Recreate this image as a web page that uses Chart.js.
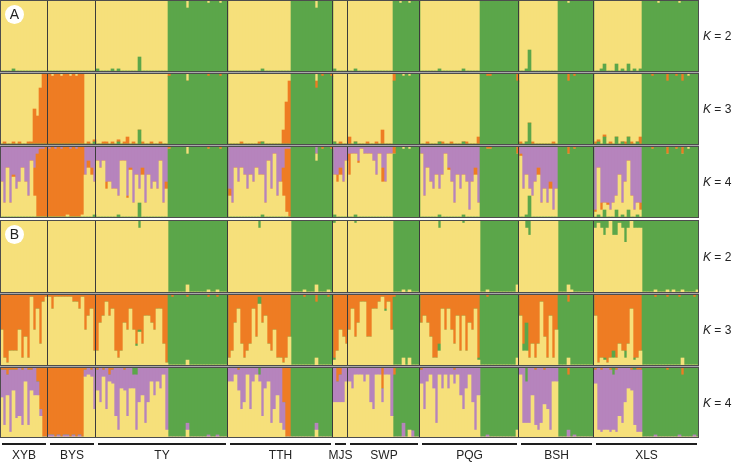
<!DOCTYPE html>
<html>
<head>
<meta charset="utf-8">
<script src="https://cdn.jsdelivr.net/npm/chart.js@4.4.0/dist/chart.umd.min.js"></script>
<style>
  body { margin: 0; background: #fff; font-family: "Liberation Sans", Arial, sans-serif; color: #222; }
  #wrap { position: relative; width: 732px; height: 462px; overflow: hidden; }
  .row canvas { position: absolute; left: 0; }
  .frame { position: absolute; left: 0; width: 699px; box-sizing: border-box; border: 1px solid #4d4d4d; pointer-events: none; }
  .gap { position: absolute; left: 0; width: 699px; height: 1px; background: #a9a9a9; }
  .klabel { position: absolute; left: 703px; font-size: 12px; line-height: 14px; white-space: nowrap; }
  .badge { position: absolute; left: 5px; width: 19px; height: 19px; border-radius: 50%; background: #fff;
           font-size: 14px; line-height: 19px; text-align: center; }
  .popline { position: absolute; top: 443px; height: 2px; background: #1e1e1e; }
  .poplabel { position: absolute; top: 448px; font-size: 12px; line-height: 14px; text-align: center; }
  #dbg { position: absolute; left: 0; top: 0; color: red; font-size: 10px; }
</style>
</head>
<body>
<div id="wrap"><div id="dbg"></div></div>
<script>
const popNames = ['XYB', 'BYS', 'TY', 'TTH', 'MJS', 'SWP', 'PQG', 'BSH', 'XLS'];
const popSizes = [16, 16, 44, 35, 5, 24, 33, 25, 35];
const kValues = [2, 3, 4, 2, 3, 4];
const panelTags = ['A', '', '', 'B', '', ''];

// one character per individual: 0 none, . trace, 1-9 tenths, b almost all, a all
const LEVELS = { '0': 0, '.': 0.03, '1': 0.1, '2': 0.2, '3': 0.3, '4': 0.4, '5': 0.5,
                 '6': 0.6, '7': 0.7, '8': 0.8, '9': 0.9, 'b': 0.97, 'a': 1 };

// (A) K = 2
const aK2Green = [
  '0000.00000000000',
  '0000000000000000',
  '.0000.0.0000002000000000' + 'aaaaaa9aaaaaabaaabaa',
  '00000000000.000000000' + 'aaaaaaaa9aaaaa',
  '.0000',
  '00.000000000000' + 'aabaabaaa',
  '000000.0000000.00000' + 'aaaaaaaaaaaaa',
  '00.3000000000' + 'aaabaaaaaaaa',
  '00.100010.010.0.' + 'aaaaabaaaaaabaaaaaa'
];

// (A) K = 3
const aK3Green = [
  '0000000000000000',
  '000000000000000.',
  '0000000.0000002000000000' + 'baaaaa9aaaaaabaaabaa',
  '00000000000.000000000' + 'aaaaaaaa8abaab',
  '.0000',
  '00.000000000000' + '9aababaaa',
  '000000.0000000.00000' + 'aabbaaaaaaaa9',
  '00.3000000000' + 'aaa9abaaaaaa',
  '0.0100010.0100.0' + 'aaabaaaa9aaba9abaaa'
];
const aK3Orange = [
  '0.00.0.00..548aa',
  'abaabaababaa0.0.',
  '00..0.0.0.10.00.00.00.00' + '.000000000000.000.00',
  '0000.00000.0000000269' + '0000000010.00.',
  '00.00',
  '100000.00.02000' + '100000000',
  '00.0000.00.0000.0001' + '00..000000001',
  '.000.000000.0' + '00010.000000',
  '..0.0.0000.0.001' + '000.0000100.0100000'
];

// (A) K = 4
const aK4Green = [
  '0000000000000000',
  '000000000000000.',
  '0000000.0000002000000000' + 'baaaaa9aaaaaabaaabaa',
  '00000000000.000000000' + 'aaaaaaaa8abaab',
  '.0000',
  '00.000000000000' + '9aababaaa',
  '000000.0000000.00000' + 'aabbaaaaaaaa9',
  '00.3000000000' + 'aaa9abaaaaaa',
  '0.0100010.0100.0' + 'aaabaaaa9aaba9abaaa'
];
const aK4Orange = [
  '0000.00000049bba',
  'babababbabab0110',
  '0001000000..000100000001' + '.000000000000.000.00',
  '10000000000000000049b' + '0000000000.00.',
  '01100',
  '300.00000002000' + '100000000',
  '000000000.0000000010' + '00..000000001',
  '.000001000100' + '00010.000000',
  '.010.00000000001' + '000.0000100.0100000'
];
const aK4Purple = [
  '5838465357231..0',
  '.0.0.00.0.004235',
  '232556672273846384656285' + '00000000000000000000',
  '6835346453448261753..' + '00000000100000',
  '44352',
  '1112.1112413511' + '000000000',
  '17356464135846459538' + '0000000000000',
  '1646753868596' + '000000000000',
  '9388898748527988' + '0000000000000000000'
];

// (B) K = 2
const bK2Green = [
  '0000000000000000',
  '0000000000000000',
  '000000000000001000000000' + 'aaaaaa9aaaaaabaabaaa',
  '000000000010000000000' + 'aaaabaaa9aaaba',
  '.0000',
  '00.000000000000' + 'aaababaaa',
  '00000010000000.00000' + 'aabaaaaaaaaa9',
  '0012000000000' + 'aaa9baaaaaaa',
  '1.121022.1310111' + 'aaaabaaababaabaaaab'
];

// (B) K = 3
const bK3Green = [
  '0000000000000000',
  '0000000000000000',
  '0000000000000..000000000' + 'abaaaa9aaaaaabaabaaa',
  '000000000010000000000' + 'aaaabaaa8aaaba',
  '.0000',
  '000000000000.00' + 'baa9a9aaa',
  '0000001000000000000.' + 'aabaaaaaaaaa9',
  '0140000000000' + 'aaa8aaaaaaaa',
  '000.001000100.00' + 'aaaabaaabaaab9aaaba'
];
const bK3Orange = [
  '59b8885969.5271.',
  '.2......112.5328',
  '84313289845257573345227b' + '0.0000.000000.00.000',
  '9842798726.4378599b96' + '0000.0001000.0',
  '98567',
  '52641166221.215' + '.00000000',
  '43469972525738384529' + '00.0000000000',
  '3749797169395' + '000100000000',
  '3b99b98978872998' + '0000.000.000.0000.0'
];

// (B) K = 4
const bK4Purple = [
  '4839377828342100',
  '..0.0..0.0.01116',
  '351612793373285485242319' + '0000001000000.00.000',
  '221365162117328648400' + '00000000100000',
  '53452',
  '231112156112117' + '000200100',
  '26213813131214631594' + '00.0000000000',
  '1868489856922' + '00010.000000',
  '2999998978533899' + '0000.0000000.0000.0'
];
const bK4Green = [
  '0000000000000000',
  '0000000000000000',
  '000000000000110000000000' + 'aaaaaa8aaaaaabaabaaa',
  '000000000010000000000' + 'aaaaaaaa8aaaaa',
  '00000',
  '000000000000000' + '9aa8a9aaa',
  '00000000000000000000' + 'aabaaaaaaaaa9',
  '0020000000000' + 'aaa8abaaaaaa',
  '0000001000000.00' + 'aaaabaaabaaab9aaaba'
];
const bK4Orange = [
  '..1...0.0..026aa',
  'bbababbababa.0.0',
  '.0.01.000.00000000000000' + '00000000000000000000',
  '000.000000000000005aa' + '00000000000000',
  '02100',
  '000000000003000' + '100000000',
  '.0000000000.00000000' + '0000000000000',
  '00000.00.0000' + '000100000000',
  '.0.00.0.0000.0..' + '00000000.0000100000'
];

const COLORS = { yellow: '#f6e07b', green: '#5ba64a', orange: '#ee7c23', purple: '#b684bd' };

// stacking order is bottom to top; yellow takes whatever is left
const panels = [
  { top: 0,   height: 72, order: ['green', 'yellow'], parts: { green: aK2Green } },
  { top: 73,  height: 72, order: ['green', 'orange', 'yellow'], parts: { green: aK3Green, orange: aK3Orange } },
  { top: 146, height: 72, order: ['green', 'yellow', 'orange', 'purple'], parts: { green: aK4Green, orange: aK4Orange, purple: aK4Purple } },
  { top: 220, height: 73, order: ['yellow', 'green'], parts: { green: bK2Green } },
  { top: 294, height: 72, order: ['yellow', 'green', 'orange'], parts: { green: bK3Green, orange: bK3Orange } },
  { top: 367, height: 71, order: ['yellow', 'purple', 'green', 'orange'], parts: { purple: bK4Purple, green: bK4Green, orange: bK4Orange } }
];

const mismatches = [];
function decode(parts, tag) {
  const out = [];
  parts.forEach((s, i) => {
    if (s.length !== popSizes[i]) mismatches.push(tag + ':' + popNames[i] + ' ' + s.length);
    let str = s.slice(0, popSizes[i]);
    while (str.length < popSizes[i]) str += '0';
    for (const c of str) out.push(LEVELS[c] ?? 0);
  });
  return out;
}

const barLabels = [];
popNames.forEach((name, i) => { for (let j = 0; j < popSizes[i]; j++) barLabels.push(name); });
const nBars = barLabels.length;

const separators = {
  id: 'separators',
  afterDatasetsDraw(chart) {
    const ctx = chart.ctx, xs = chart.scales.x, area = chart.chartArea;
    ctx.save();
    ctx.fillStyle = '#3b3b3b';
    let cum = 0;
    popSizes.slice(0, -1).forEach(n => {
      cum += n;
      const x = (xs.getPixelForValue(cum - 1) + xs.getPixelForValue(cum)) / 2;
      ctx.fillRect(Math.round(x) - 1, area.top, 1, area.bottom - area.top);
    });
    ctx.restore();
  }
};

const wrap = document.getElementById('wrap');
const width = 699;

panels.forEach((p, pi) => {
  const series = {};
  Object.keys(p.parts).forEach(name => { series[name] = decode(p.parts[name], pi + name); });
  const others = Object.keys(series);
  series.yellow = [];
  for (let i = 0; i < nBars; i++) {
    const sum = others.reduce((s, name) => s + series[name][i], 0);
    if (sum > 1) others.forEach(name => { series[name][i] /= sum; });
    series.yellow.push(Math.max(0, 1 - sum));
  }

  const row = document.createElement('div');
  row.className = 'row';
  const canvas = document.createElement('canvas');
  canvas.width = width;
  canvas.height = p.height - 2;
  canvas.style.top = (p.top + 1) + 'px';
  row.appendChild(canvas);
  wrap.appendChild(row);

  new Chart(canvas, {
    type: 'bar',
    data: {
      labels: barLabels,
      datasets: p.order.map(name => ({
        label: name,
        data: series[name],
        backgroundColor: COLORS[name],
        borderWidth: 0,
        barPercentage: 1,
        categoryPercentage: 1
      }))
    },
    options: {
      responsive: false,
      animation: false,
      events: [],
      layout: { padding: 0 },
      plugins: { legend: { display: false }, tooltip: { enabled: false } },
      scales: {
        x: { stacked: true, display: false },
        y: { stacked: true, display: false, min: 0, max: 1 }
      }
    },
    plugins: [separators]
  });

  const frame = document.createElement('div');
  frame.className = 'frame';
  frame.style.top = p.top + 'px';
  frame.style.height = p.height + 'px';
  wrap.appendChild(frame);

  const k = document.createElement('div');
  k.className = 'klabel';
  k.style.top = (p.top + p.height / 2 - 7) + 'px';
  k.innerHTML = '<i>K</i> = ' + kValues[pi];
  wrap.appendChild(k);

  if (panelTags[pi]) {
    const b = document.createElement('div');
    b.className = 'badge';
    b.style.top = (p.top + 5) + 'px';
    b.textContent = panelTags[pi];
    wrap.appendChild(b);
  }
});

// light strips between neighbouring panels
[72, 145, 293, 366].forEach(y => {
  const g = document.createElement('div');
  g.className = 'gap';
  g.style.top = y + 'px';
  wrap.appendChild(g);
});

// population brackets under the plot
const step = width / nBars;
let start = 0;
popNames.forEach((name, i) => {
  const x0 = start * step + 2, x1 = (start + popSizes[i]) * step - 2;
  const line = document.createElement('div');
  line.className = 'popline';
  line.style.left = x0 + 'px';
  line.style.width = (x1 - x0) + 'px';
  wrap.appendChild(line);
  const lab = document.createElement('div');
  lab.className = 'poplabel';
  lab.style.left = (x0 - 20) + 'px';
  lab.style.width = (x1 - x0 + 40) + 'px';
  lab.textContent = name;
  wrap.appendChild(lab);
  start += popSizes[i];
});

if (mismatches.length) document.getElementById('dbg').textContent = mismatches.join(' | ');
</script>
</body>
</html>
